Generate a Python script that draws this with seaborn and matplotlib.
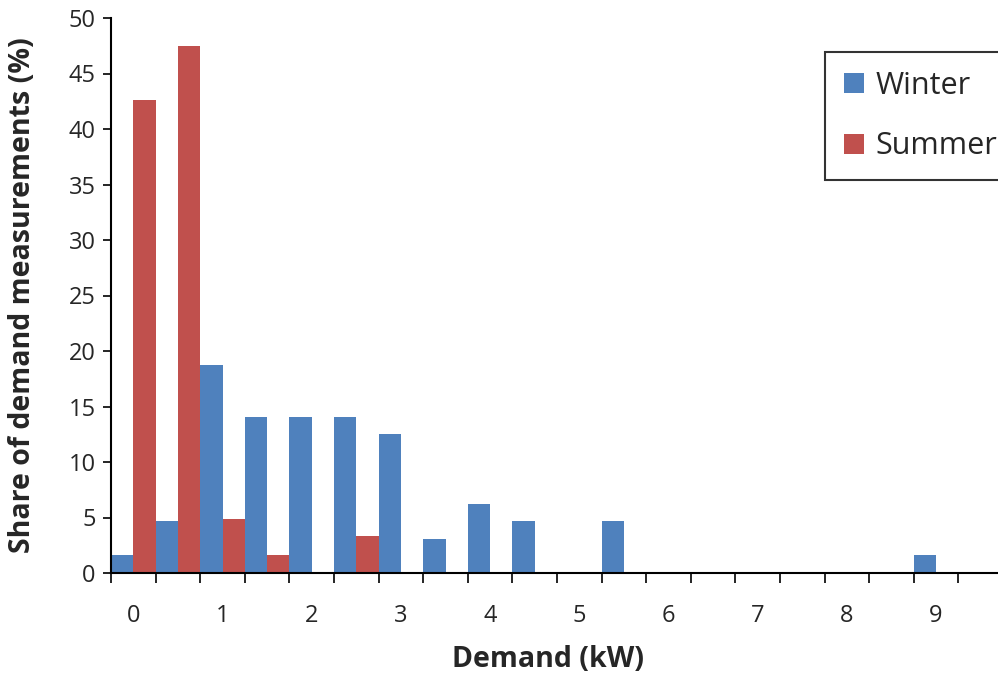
import matplotlib
matplotlib.use("Agg")
import matplotlib.pyplot as plt
import seaborn as sns
import pandas as pd
import numpy as np
from matplotlib.patches import Patch

# Data
categories = ["0", "0.5", "1", "1.5", "2", "2.5", "3", "3.5", "4", "4.5",
              "5", "5.5", "6", "6.5", "7", "7.5", "8", "8.5", "9", "9.5"]
winter = [1.6, 4.7, 18.75, 14.06, 14.06, 14.06, 12.5, 3.1, 6.25, 4.7,
          0, 4.7, 0, 0, 0, 0, 0, 0, 1.6, 0]
summer = [42.6, 47.5, 4.9, 1.6, 0, 3.3, 0, 0, 0, 0,
          0, 0, 0, 0, 0, 0, 0, 0, 0, 0]
tick_labels = ["0", "1", "2", "3", "4", "5", "6", "7", "8", "9"]
series_names = ["Winter", "Summer"]
colors = ["#4F81BD", "#C0504D"]

df = pd.DataFrame({
    "Demand": categories * 2,
    "Share": winter + summer,
    "Season": [series_names[0]] * len(categories) + [series_names[1]] * len(categories),
})

sns.set_theme(style="white")
plt.rcParams["font.family"] = ["Open Sans", "DejaVu Sans"]

fig = plt.figure(figsize=(9.98, 6.78), dpi=100)
W, H = 998, 678
ax = fig.add_axes([111 / W, (H - 573) / H, (1003 - 111) / W, (573 - 18) / H])

sns.barplot(data=df, x="Demand", y="Share", hue="Season", order=categories,
            hue_order=series_names, palette=colors, width=1.0, gap=0,
            saturation=1, linewidth=0, ax=ax, legend=False)

ax.set_xlim(-0.5, len(categories) - 0.5)
ax.set_ylim(0, 50)
ax.set_yticks(np.arange(0, 51, 5))
ax.tick_params(axis="y", labelsize=17, length=6, width=1.2, color="black",
               direction="out", left=True, pad=5)

# tick marks at category boundaries, labels on every other category
ax.set_xticks(np.arange(-0.5, len(categories), 1.0))
ax.set_xticklabels([])
ax.set_xticks(np.arange(0, len(categories), 2), minor=True)
ax.set_xticklabels(tick_labels, minor=True)
ax.tick_params(axis="x", which="major", length=7, width=1.2, color="black",
               direction="out", bottom=True)
ax.tick_params(axis="x", which="minor", length=0, labelsize=17, pad=22)

for s in ["top", "right"]:
    ax.spines[s].set_visible(False)
for s in ["left", "bottom"]:
    ax.spines[s].set_color("black")
    ax.spines[s].set_linewidth(1.5)
ax.spines["bottom"].set_zorder(5)

ax.set_xlabel("Demand (kW)", fontsize=20.5, fontweight="bold")
ax.set_ylabel("Share of demand measurements (%)", fontsize=20.5, fontweight="bold")
ax.xaxis.set_label_coords((548 - 111) / 892, (573 - 645) / 555)
ax.yaxis.set_label_coords((37 - 111) / 892, 0.5)

handles = [Patch(facecolor=c, edgecolor="none") for c in colors]
leg = ax.legend(handles, series_names, loc="upper left",
                bbox_to_anchor=((825 - 111) / (1003 - 111), (573 - 52) / (573 - 18)),
                fontsize=22, frameon=True, fancybox=False, handlelength=0.65,
                handleheight=0.65, handletextpad=0.38, labelspacing=1.0,
                borderpad=0.62, borderaxespad=0)
leg.get_frame().set_edgecolor("black")
leg.get_frame().set_linewidth(1.5)

fig.savefig("out.png", dpi=100)
